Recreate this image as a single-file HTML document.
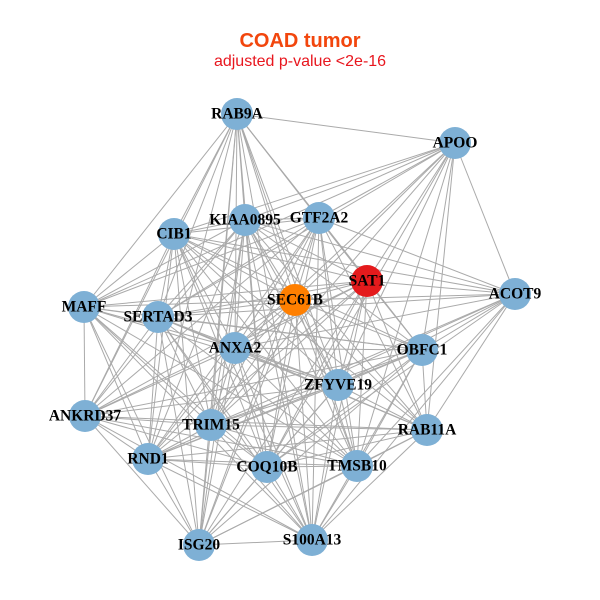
<!DOCTYPE html>
<html><head><meta charset="utf-8">
<style>
html,body{margin:0;padding:0;background:#fff;}
svg{display:block;}
.t{font-family:"Liberation Serif",serif;font-weight:bold;font-size:15.5px;fill:#000;text-anchor:middle;dominant-baseline:central;}
</style></head>
<body>
<svg id="g" width="600" height="600" xmlns="http://www.w3.org/2000/svg">
<rect width="600" height="600" fill="#fff"/>
<text x="300" y="47" text-anchor="middle" font-family="Liberation Sans,sans-serif" font-weight="bold" font-size="20" fill="#f2460d">COAD tumor</text>
<text x="300" y="66" text-anchor="middle" font-family="Liberation Sans,sans-serif" font-size="16" fill="#e8161e">adjusted p-value &lt;2e-16</text>
<g id="edges" stroke="#aaaaaa" stroke-width="1"></g>
<g id="nodes"></g>
</svg>
<script>
var N=[["RAB9A",237,114],["APOO",455,143],["GTF2A2",319,218],["KIAA0895",245,220],["CIB1",174,234],["SAT1",367,281],["SEC61B",295,300],["ACOT9",515,294],["MAFF",84,307],["SERTAD3",158,317],["ANXA2",235,348],["OBFC1",422,350],["ZFYVE19",338,385],["ANKRD37",85,416],["TRIM15",211,425],["RAB11A",427,430],["RND1",148,459],["COQ10B",267,467],["TMSB10",357,466],["ISG20",199,545],["S100A13",312,540]];
var skip={"APOO-ISG20":1,"APOO-RND1":1,"APOO-ANKRD37":1,"ACOT9-ISG20":1,"ACOT9-MAFF":1,"ACOT9-ANKRD37":1,"RAB9A-ACOT9":1,"APOO-S100A13":1,"RAB9A-RAB11A":1,"MAFF-RAB11A":1};
var e=document.getElementById("edges"),nd=document.getElementById("nodes"),ns="http://www.w3.org/2000/svg";
for(var i=0;i<N.length;i++)for(var j=i+1;j<N.length;j++){
 if(skip[N[i][0]+"-"+N[j][0]]||skip[N[j][0]+"-"+N[i][0]])continue;
 var l=document.createElementNS(ns,"line");
 l.setAttribute("x1",N[i][1]);l.setAttribute("y1",N[i][2]);l.setAttribute("x2",N[j][1]);l.setAttribute("y2",N[j][2]);
 e.appendChild(l);}
N.forEach(function(n){
 var c=document.createElementNS(ns,"circle");
 c.setAttribute("cx",n[1]);c.setAttribute("cy",n[2]);c.setAttribute("r",16);
 c.setAttribute("fill",n[0]=="SAT1"?"#e41a1c":n[0]=="SEC61B"?"#ff7f00":"#7eb0d5");
 nd.appendChild(c);});
N.forEach(function(n){
 var t=document.createElementNS(ns,"text");
 t.setAttribute("x",n[1]);t.setAttribute("y",n[2]);t.setAttribute("class","t");
 t.textContent=n[0];nd.appendChild(t);});
</script>
</body></html>
